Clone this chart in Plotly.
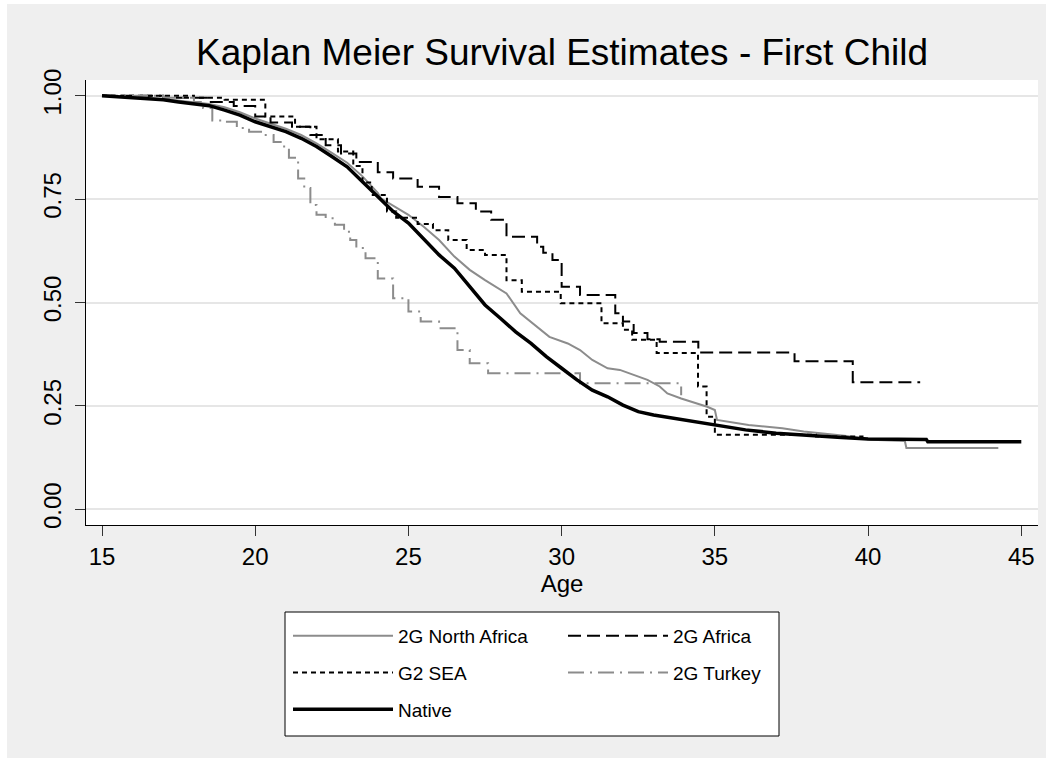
import plotly.graph_objects as go

# ---------------- data ----------------
native_age = [15, 16, 17, 17.5, 18, 18.5, 19, 19.5, 20, 20.5, 21, 21.5, 22, 22.5, 23, 23.5,
              24, 24.5, 25, 25.5, 26, 26.5, 27, 27.5, 28, 28.5, 29, 29.5, 30, 30.5, 31, 31.5,
              32, 32.5, 33, 33.5, 34, 34.5, 35, 36, 37, 38, 39, 40, 41.9, 41.95, 45]
native_surv = [1.0, 0.996, 0.99, 0.985, 0.981, 0.976, 0.965, 0.953, 0.937, 0.925, 0.913, 0.897,
               0.877, 0.853, 0.828, 0.792, 0.755, 0.72, 0.692, 0.653, 0.615, 0.583, 0.538, 0.494,
               0.462, 0.429, 0.401, 0.369, 0.341, 0.313, 0.288, 0.272, 0.252, 0.236, 0.228, 0.222,
               0.216, 0.208, 0.202, 0.192, 0.184, 0.178, 0.174, 0.170, 0.169, 0.163, 0.163]

nafrica_age = [15, 16, 17, 18, 18.5, 19, 19.5, 20, 20.5, 21, 21.5, 22, 22.5, 23, 23.5, 24,
               24.1, 25, 25.5, 26, 26.5, 27, 27.5, 28, 28.2, 28.65, 29.2, 29.6, 30.2, 30.6, 31.0,
               31.5, 31.9, 32.35, 32.8, 33.2, 33.45, 33.9, 34.4, 34.75, 35.0, 35.07, 36.1, 37.2,
               37.9, 39.3, 40.1, 41.2, 41.25, 44.25]
nafrica_surv = [1.0, 0.997, 0.992, 0.985, 0.98, 0.972, 0.96, 0.945, 0.932, 0.92, 0.905, 0.885,
                0.862, 0.838, 0.805, 0.765, 0.752, 0.712, 0.683, 0.651, 0.611, 0.579, 0.554, 0.53,
                0.522, 0.474, 0.441, 0.417, 0.401, 0.385, 0.361, 0.341, 0.337, 0.325, 0.313, 0.297,
                0.28, 0.268, 0.256, 0.248, 0.24, 0.216, 0.204, 0.196, 0.188, 0.177, 0.168, 0.165,
                0.148, 0.148]

africa_age = [15, 17, 18.5, 19.3, 20, 20.5, 21.2, 21.8, 22.3, 22.8, 23.3, 24.0, 24.5, 25.3, 26.0,
              26.6, 27.2, 27.7, 28.2, 29.2, 29.4, 29.7, 30.0, 30.6, 31.75, 32.0, 32.35, 32.8,
              33.2, 34.46, 37.6, 39.5, 41.7]
africa_surv = [1.0, 0.995, 0.985, 0.975, 0.95, 0.935, 0.925, 0.905, 0.88, 0.86, 0.84, 0.815,
               0.80, 0.78, 0.755, 0.74, 0.72, 0.70, 0.659, 0.635, 0.620, 0.603, 0.538, 0.518,
               0.474, 0.454, 0.426, 0.411, 0.405, 0.379, 0.358, 0.307, 0.307]

sea_age = [15, 18, 19, 20.33, 21.3, 22.0, 22.7, 23.2, 23.5, 23.8, 24.3, 24.6, 25.3, 25.8, 26.3,
           26.9, 27.5, 28.2, 28.7, 29.97, 31.3, 32.0, 32.3, 33.1, 34.45, 34.73, 35.0, 38.3, 39.85]
sea_surv = [1.0, 0.995, 0.99, 0.95, 0.925, 0.895, 0.865, 0.83, 0.79, 0.76, 0.72, 0.705, 0.69,
            0.675, 0.651, 0.627, 0.615, 0.554, 0.526, 0.498, 0.45, 0.434, 0.41, 0.378, 0.297,
            0.224, 0.18, 0.176, 0.176]

turkey_age = [15, 17, 18.0, 18.3, 18.6, 19.0, 19.4, 19.8, 20.3, 20.6, 20.9, 21.1, 21.4, 21.6,
              21.8, 22.0, 22.3, 22.6, 22.9, 23.1, 23.3, 23.6, 24.0, 24.5, 25.0, 25.4, 26.0, 26.6,
              27.0, 27.6, 30.6, 33.9]
turkey_surv = [1.0, 0.995, 0.985, 0.97, 0.94, 0.937, 0.922, 0.913, 0.905, 0.888, 0.877, 0.85,
               0.80, 0.777, 0.736, 0.712, 0.704, 0.688, 0.671, 0.651, 0.632, 0.607, 0.558, 0.51,
               0.478, 0.454, 0.438, 0.385, 0.353, 0.329, 0.305, 0.276]

x_ticks = [15, 20, 25, 30, 35, 40, 45]
y_ticks = [0, 0.25, 0.5, 0.75, 1.0]
y_ticktext = ["0.00", "0.25", "0.50", "0.75", "1.00"]

# ---------------- figure ----------------
W, H = 1053, 769
L, R, T, B = 86, 15, 80, 244
FONT = "Liberation Sans, Arial, sans-serif"
GRAY = "#8c8c8c"

def px_x(px):
    return (px - L) / (W - L - R)

def px_y(py):
    return (H - B - py) / (H - T - B)

fig = go.Figure()

fig.add_trace(go.Scatter(x=nafrica_age, y=nafrica_surv, mode="lines", name="2G North Africa",
                         line=dict(color=GRAY, width=2), legend="legend", legendgroup="na"))
fig.add_trace(go.Scatter(x=africa_age, y=africa_surv, mode="lines", name="2G Africa",
                         line=dict(color="black", width=2, dash="13px,6px", shape="hv"),
                         legend="legend2", legendgroup="af"))
fig.add_trace(go.Scatter(x=sea_age, y=sea_surv, mode="lines", name="G2 SEA",
                         line=dict(color="black", width=2, dash="5px,4px", shape="hv"),
                         legend="legend", legendgroup="sea"))
fig.add_trace(go.Scatter(x=turkey_age, y=turkey_surv, mode="lines", name="2G Turkey",
                         line=dict(color=GRAY, width=2, dash="16px,6px,2px,6px", shape="hv"),
                         legend="legend2", legendgroup="tk"))
fig.add_trace(go.Scatter(x=native_age, y=native_surv, mode="lines", name="Native",
                         line=dict(color="black", width=3.5), legend="legend", legendgroup="nat"))

shapes = []
# white outer margin around the gray graph region
for (x0, y0, x1, y1) in [(0, 0, 7, H), (1046, 0, W, H), (0, 0, W, 4), (0, 758, W, H)]:
    shapes.append(dict(type="rect", xref="paper", yref="paper",
                       x0=px_x(x0), x1=px_x(x1), y0=px_y(y1), y1=px_y(y0),
                       fillcolor="white", line=dict(width=0), layer="above"))
# legend box
shapes.append(dict(type="rect", xref="paper", yref="paper",
                   x0=px_x(285), x1=px_x(779), y0=px_y(736), y1=px_y(612),
                   fillcolor="white", line=dict(color="black", width=1), layer="below"))

legend_common = dict(font=dict(family=FONT, size=19, color="black"), bgcolor="rgba(0,0,0,0)",
                     borderwidth=0, traceorder="grouped", tracegroupgap=9,
                     xanchor="left", yanchor="top", itemwidth=100)

fig.update_layout(
    width=W, height=H,
    margin=dict(l=L, r=R, t=T, b=B, pad=0),
    paper_bgcolor="#efefef",
    plot_bgcolor="white",
    title=dict(text="Kaplan Meier Survival Estimates - First Child",
               font=dict(family=FONT, size=37, color="black"),
               x=px_x(562), xref="paper", xanchor="center",
               y=1 - 52 / H, yref="container", yanchor="middle"),
    xaxis=dict(range=[14.478, 45.545], tickvals=x_ticks, ticks="outside", ticklen=10,
               tickcolor="#333333", tickwidth=1, showline=True, linecolor="black", linewidth=1.3,
               showgrid=False, zeroline=False,
               tickfont=dict(family=FONT, size=24, color="black"),
               title=dict(text="Age", font=dict(family=FONT, size=24, color="black"), standoff=2)),
    yaxis=dict(range=[-0.038, 1.038], tickvals=y_ticks, ticktext=y_ticktext, ticks="outside",
               ticklen=10, tickcolor="#333333", tickwidth=1, tickangle=-90,
               ticklabelstandoff=4,
               showline=True, linecolor="black", linewidth=1.3,
               showgrid=True, gridcolor="#e6e6e6", gridwidth=2, zeroline=False,
               tickfont=dict(family=FONT, size=24, color="black")),
    legend=dict(x=px_x(288), y=px_y(617), **legend_common),
    legend2=dict(x=px_x(563), y=px_y(617), **legend_common),
    shapes=shapes,
)

fig.write_html("out.html")
